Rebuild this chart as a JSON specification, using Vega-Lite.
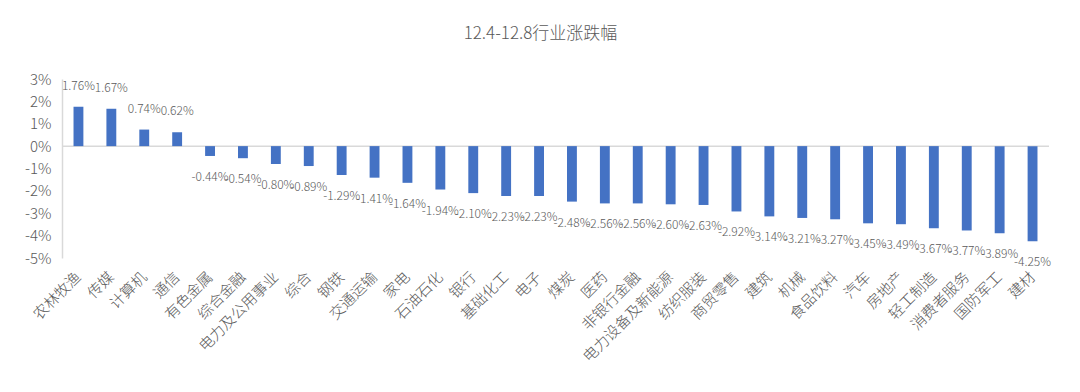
{
  "$schema": "https://vega.github.io/schema/vega-lite/v6.json",
  "width": 987,
  "height": 179,
  "autosize": {"type": "none"},
  "padding": {"left": 62, "top": 79, "right": 31, "bottom": 134},
  "background": "white",
  "title": {
    "text": "12.4-12.8行业涨跌幅",
    "fontSize": 17,
    "font": "Noto Sans CJK SC",
    "fontWeight": 300,
    "color": "#595959",
    "anchor": "middle",
    "dx": -15,
    "offset": 29
  },
  "config": {
    "view": {"stroke": null},
    "locale": {"number": {"decimal": ".", "thousands": ",", "grouping": [3], "currency": ["$", ""], "minus": "-"}}
  },
  "data": {
    "values": [
      {"industry": "农林牧渔", "change": 0.0176},
      {"industry": "传媒", "change": 0.0167},
      {"industry": "计算机", "change": 0.0074},
      {"industry": "通信", "change": 0.0062},
      {"industry": "有色金属", "change": -0.0044},
      {"industry": "综合金融", "change": -0.0054},
      {"industry": "电力及公用事业", "change": -0.0080},
      {"industry": "综合", "change": -0.0089},
      {"industry": "钢铁", "change": -0.0129},
      {"industry": "交通运输", "change": -0.0141},
      {"industry": "家电", "change": -0.0164},
      {"industry": "石油石化", "change": -0.0194},
      {"industry": "银行", "change": -0.0210},
      {"industry": "基础化工", "change": -0.0223},
      {"industry": "电子", "change": -0.0223},
      {"industry": "煤炭", "change": -0.0248},
      {"industry": "医药", "change": -0.0256},
      {"industry": "非银行金融", "change": -0.0256},
      {"industry": "电力设备及新能源", "change": -0.0260},
      {"industry": "纺织服装", "change": -0.0263},
      {"industry": "商贸零售", "change": -0.0292},
      {"industry": "建筑", "change": -0.0314},
      {"industry": "机械", "change": -0.0321},
      {"industry": "食品饮料", "change": -0.0327},
      {"industry": "汽车", "change": -0.0345},
      {"industry": "房地产", "change": -0.0349},
      {"industry": "轻工制造", "change": -0.0367},
      {"industry": "消费者服务", "change": -0.0377},
      {"industry": "国防军工", "change": -0.0389},
      {"industry": "建材", "change": -0.0425}
    ]
  },
  "encoding": {
    "x": {
      "field": "industry",
      "type": "nominal",
      "sort": null,
      "scale": {"paddingInner": 0.7, "paddingOuter": 0.35},
      "axis": {
        "title": null,
        "domain": false,
        "ticks": false,
        "labelAngle": -45,
        "labelAlign": "right",
        "labelBaseline": "middle",
        "labelPadding": 16,
        "labelFont": "Noto Sans CJK SC",
        "labelFontSize": 15,
        "labelFontWeight": 300,
        "labelColor": "#595959",
        "labelOverlap": false
      }
    },
    "y": {
      "field": "change",
      "type": "quantitative",
      "scale": {"domain": [-0.05, 0.03], "nice": false, "zero": false},
      "axis": {
        "title": null,
        "format": ".0%",
        "values": [-0.05, -0.04, -0.03, -0.02, -0.01, 0, 0.01, 0.02, 0.03],
        "grid": false,
        "ticks": false,
        "domain": true,
        "domainColor": "#d9d9d9",
        "domainWidth": 1.5,
        "labelPadding": 11,
        "labelFont": "Noto Sans CJK SC",
        "labelFontSize": 15,
        "labelFontWeight": 300,
        "labelColor": "#595959"
      }
    }
  },
  "layer": [
    {
      "mark": {"type": "rule", "color": "#d9d9d9", "strokeWidth": 1.5},
      "data": {"values": [{"zero": 0}]},
      "encoding": {"y": {"field": "zero", "type": "quantitative"}, "x": null}
    },
    {
      "mark": {"type": "bar", "color": "#4472C4"}
    },
    {
      "transform": [{"filter": "datum.change >= 0"}],
      "mark": {"type": "text", "dy": -21, "fontSize": 12, "font": "Noto Sans CJK SC", "fontWeight": 300, "color": "#595959", "baseline": "middle"},
      "encoding": {"text": {"field": "change", "type": "quantitative", "format": ".2%"}}
    },
    {
      "transform": [{"filter": "datum.change < 0"}],
      "mark": {"type": "text", "dy": 21, "fontSize": 12, "font": "Noto Sans CJK SC", "fontWeight": 300, "color": "#595959", "baseline": "middle"},
      "encoding": {"text": {"field": "change", "type": "quantitative", "format": ".2%"}}
    }
  ]
}
